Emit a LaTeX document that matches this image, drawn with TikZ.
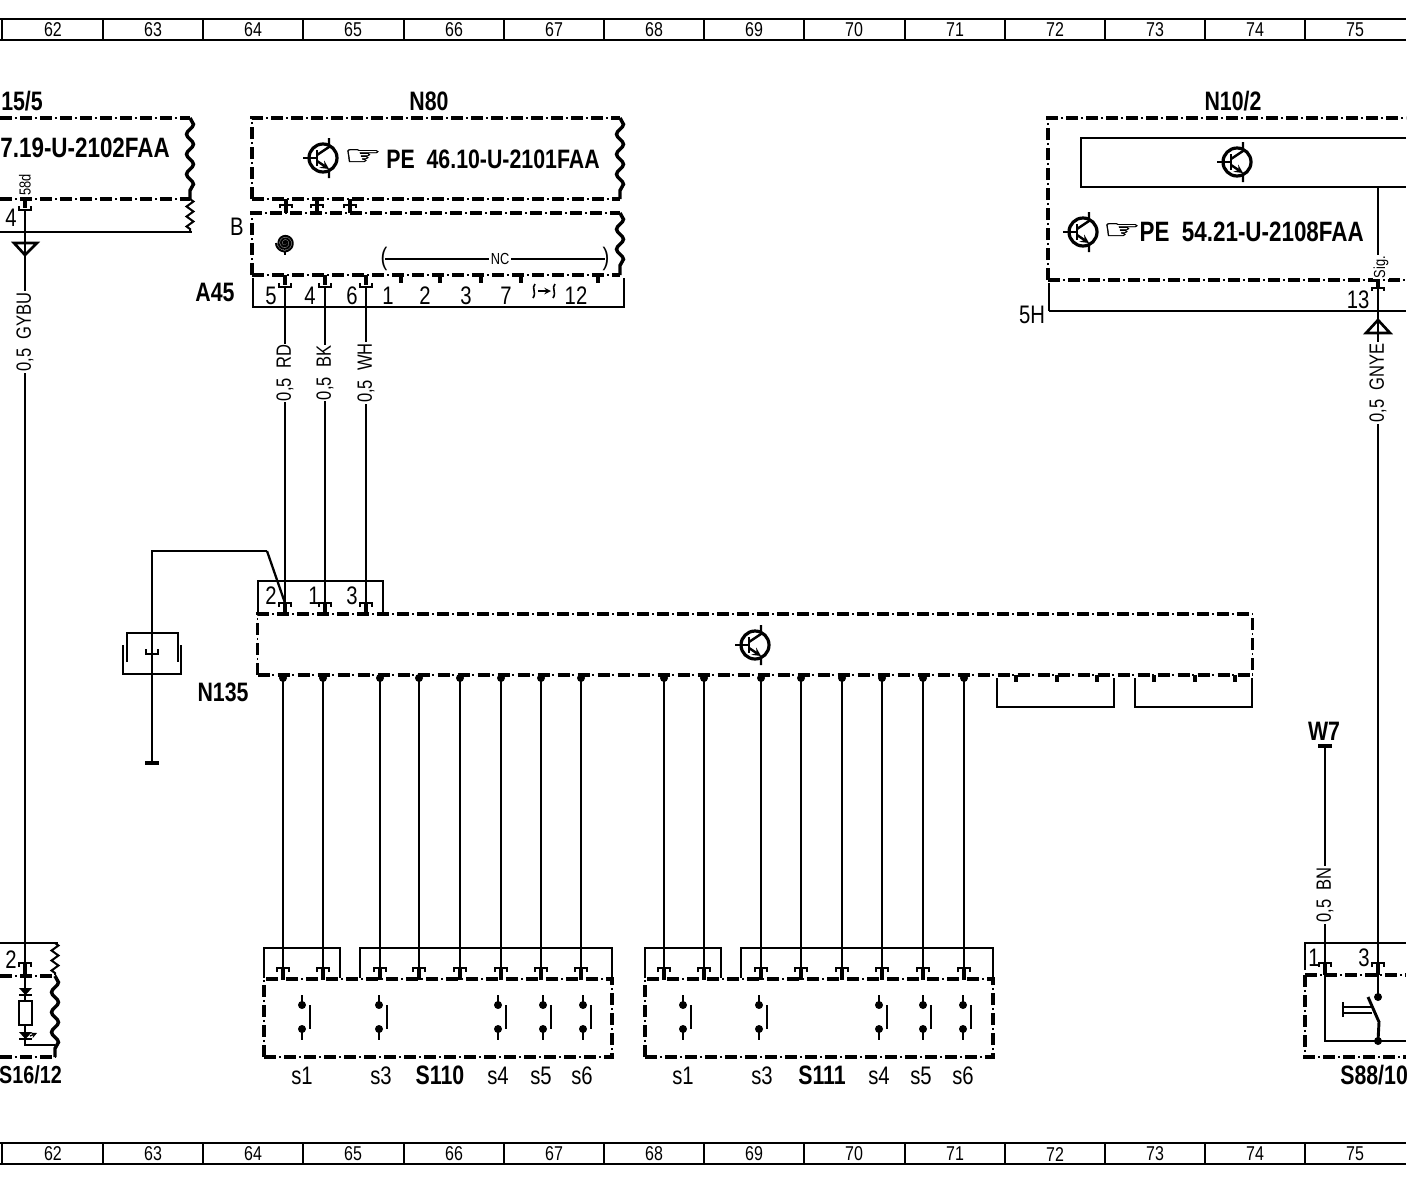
\documentclass[tikz,border=0pt]{standalone}
\usepackage{fontspec}
\setmainfont[FakeStretch=.8]{Liberation Sans}
\newfontfamily\handfont[FakeStretch=1.6,FakeBold=1.5]{DejaVu Sans}
\usetikzlibrary{decorations.pathmorphing}
\newcommand{\titlesize}{\fontsize{20}{20}\selectfont\bfseries}
\newcommand{\plainsize}{\fontsize{19}{19}\selectfont}
\newcommand{\wiresize}{\fontsize{15.5}{15.5}\selectfont}
\newcommand{\smallsize}{\fontsize{12}{12}\selectfont}

\begin{document}
\begin{tikzpicture}[
    x=.75pt, y=-.75pt,
    wire/.style={line width=2.2pt},
    thinwire/.style={line width=1.7pt},
    framebox/.style={line width=.9pt, dash pattern=on 9pt off 2.2pt on 1.2pt off 2.6pt,
        postaction={draw, line width=2.6pt, dash pattern=on 9pt off 6pt}},
    ctrlbox/.style={framebox, draw, inner sep=0pt},
    wavy/.style={line width=2.6pt, decorate, decoration={snake, amplitude=2.6pt, segment length=15pt}},
    wavythin/.style={line width=1.5pt, decorate, decoration={zigzag, amplitude=2.6pt, segment length=7.5pt}},
    title/.style={font=\titlesize, inner sep=0pt},
    plain/.style={font=\plainsize, inner sep=0pt},
    wirelabel/.style={font=\wiresize, fill=white, rotate=90, inner sep=1pt},
    pinup/.pic={
        \draw[line width=1.9pt] (-6,4) -- (-6,0) -- (6,0) -- (6,4);
        \draw[line width=3pt] (0,0) -- (0,12);
    },
    pindown/.pic={
        \draw[line width=3pt] (0,-12) -- (0,-2);
        \draw[line width=1.9pt] (-6,-4) -- (-6,0) -- (6,0) -- (6,-4);
    },
    transistor/.pic={
        \draw[line width=2.4pt] (0,0) circle [radius=14];
        \draw[line width=1.8pt] (-20,0) -- (-6,0) (-6,-8) -- (-6,8);
        \draw[line width=1.8pt] (-6,-3) -- (6,-11) -- (6,-20) (6,11) -- (6,20);
        \draw[line width=1.8pt, -stealth] (-6,3) -- (6,11);
    },
    contact/.pic={
        \fill (0,-12) circle [radius=4] (0,12) circle [radius=4];
        \draw[line width=2pt] (0,-22) -- (0,-12) (0,12) -- (0,23);
        \draw[line width=1.4pt] (8,-12) -- (8,12);
    },
]
\useasboundingbox (0,0) rectangle (1408,1186);
\clip (0,0) rectangle (1406,1186);

% grid strips
\foreach \ya/\yb/\yc in {19/40/30, 1143/1164/1154} {
    \draw[line width=2pt] (0,\ya) -- (1406,\ya) (0,\yb) -- (1406,\yb);
    \foreach \x in {2,103,203,303,404,504,604,704,804,905,1005,1105,1205,1305}
        \draw[line width=1.7pt] (\x,\ya) -- (\x,\yb);
    \foreach \n/\x in {62/53,63/153,64/253,65/353,66/454,67/554,68/654,69/754,70/854,71/955,72/1055,73/1155,74/1255,75/1355}
        \node[font=\fontsize{15}{15}\selectfont, inner sep=0pt] (grid\n\ya) at (\x,\yc) {\n};
}

% 15/5
\node[title, anchor=west] (lblA) at (1,101) {15/5};
\draw[framebox] (0,118) -- (190,118);
\draw[framebox] (0,199) -- (190,199);
\draw[wavy] (190,118) -- (190,199);
\draw[wavythin] (190,199) -- (190,232);
\draw[thinwire] (0,232) -- (192,232);
\node[title, font=\fontsize{21}{21}\selectfont\bfseries, anchor=east] (refA) at (170,148) {7.19-U-2102FAA};
\coordinate (pinA) at (25,210);
\pic at (pinA) {pindown};
\node[font=\smallsize, rotate=90, inner sep=0pt] (sigA) at (25,185) {58d};
\node[plain] (numA) at (11,218) {4};
\coordinate (pinB) at (25,963);
\draw[wire] (pinA) -- (pinB);
\draw[line width=2pt] (14,243) -- (37,243) -- (25,255) -- cycle;
\node[wirelabel] (wireA) at (25,332) {0,5~~GYBU};

% N80
\node[title] (lblN80) at (429,101) {N80};
\draw[framebox] (252,199) -- (252,118) -- (620,118);
\draw[framebox] (252,199) -- (620,199);
\draw[wavy] (620,118) -- (620,199);
\pic at (323,158) {transistor};
\node[font=\handfont\fontsize{20}{20}\selectfont, inner sep=0pt] (handN80) at (363,157) {☞};
\node[title, anchor=east] (refN80) at (600,159) {PE~~46.10-U-2101FAA};
\foreach \x in {286,317,350} {
    \draw[line width=1.9pt] (\x-6,208) -- (\x-6,205) -- (\x+6,205) -- (\x+6,208);
    \draw[line width=3pt] (\x,199) -- (\x,213);
}

% A45
\draw[framebox] (252,275) -- (252,213) -- (620,213);
\draw[framebox] (252,275) -- (620,275);
\draw[wavy] (620,213) -- (620,275);
\node[plain] (lblB) at (237,227) {B};
\draw[line width=1.5pt] plot[domain=0:1260, samples=80] ({285+\x/1260*9*cos(\x)},{243+\x/1260*9*sin(\x)});
\draw[line width=1.7pt] (285,252) -- (285,255);
\draw[thinwire] (385,259) -- (605,259);
\node[font=\smallsize, fill=white, inner sep=1pt] (lblNC) at (500,259) {NC};
\node[plain] (openNC) at (384,259) {(};
\node[plain] (closeNC) at (606,259) {)};
\draw[thinwire] (253,278) -- (253,307) -- (624,307) -- (624,278);
\node[title] (lblA45) at (215,292) {A45};
\foreach \x in {401,440,481,521,598}
    \draw[line width=2.8pt] (\x,275) -- (\x,283);
\foreach \n/\x in {5/271,4/310,6/352,1/388,2/425,3/466,7/506,12/576}
    \node[plain] (numAA\n) at (\x,296) {\n};
\draw[line width=1.2pt] (535,284) .. controls (531,288) and (537,292) .. (533,298);
\draw[line width=1.2pt] (555,284) .. controls (551,288) and (557,292) .. (553,298);
\draw[line width=1.2pt, -stealth] (538,291) -- (551,291);

% N135
\node[ctrlbox, minimum width=746.25pt, minimum height=45.75pt] (N135) at (755,644.5) {};
\node[title] (lblN135) at (223,692) {N135};
\pic at (755,645) {transistor};
\draw[thinwire] (258,612) -- (258,581) -- (383,581) -- (383,612);
\foreach \n/\x/\tx in {2/285/271,1/325/314,3/366/352} {
    \coordinate (top\n) at (\x,287);
    \coordinate (pin\n) at (\x,603);
    \draw[wire] (top\n) -- (pin\n);
    \pic at (top\n) {pindown};
    \pic at (pin\n) {pinup};
    \node[plain] (num\n) at (\tx,596) {\n};
}
\foreach \n/\a/\x in {2/RD/285,1/BK/325,3/WH/366}
    \node[wirelabel] (wire\n) at (\x,373) {0,5~~\a};

% shield
\coordinate (bend) at (267,551);
\coordinate (corner) at (152,551);
\coordinate (shieldEnd) at (152,763);
\draw[line width=1.7pt] (pin2) -- (bend);
\draw[wire] (bend) -- (corner) -- (shieldEnd);
\draw[line width=2.4pt] (145,763) -- (159,763);
\draw[thinwire] (127,662) -- (127,633) -- (178,633) -- (178,662);
\draw[line width=2pt] (123,645) -- (123,674) -- (181,674) -- (181,645);
\draw[line width=2pt] (146,649) -- (146,654) -- (158,654) -- (158,649);

% switch blocks
\node[ctrlbox, minimum width=261pt, minimum height=58.5pt] (S110) at (438,1018) {};
\node[ctrlbox, minimum width=261pt, minimum height=58.5pt] (S111) at (819,1018) {};
\foreach \xa/\xb/\xc/\xd in {264/340/360/612, 645/721/741/993} {
    \draw[thinwire] (\xa,978) -- (\xa,948) -- (\xb,948) -- (\xb,978);
    \draw[thinwire] (\xc,978) -- (\xc,948) -- (\xd,948) -- (\xd,978);
}
\foreach \x in {283,323,380,419,460,501,541,581,664,704,761,801,842,882,923,964} {
    \coordinate (out\x) at (\x,678);
    \coordinate (in\x) at (\x,968);
    \draw[wire] (out\x) -- (in\x);
    \fill (out\x) circle [radius=4];
    \pic at (in\x) {pinup};
}
\foreach \x in {302,379,498,543,583,683,759,879,923,963}
    \pic at (\x,1017) {contact};
\foreach \n/\x in {s1/302,s3/381,s4/498,s5/541,s6/582}
    \node[plain] (lblA\n) at (\x,1076) {\n};
\foreach \n/\x in {s1/683,s3/762,s4/879,s5/921,s6/963}
    \node[plain] (lblB\n) at (\x,1076) {\n};
\node[title] (lblS110) at (440,1075) {S110};
\node[title] (lblS111) at (822,1075) {S111};

% N135 plugs
\foreach \xa/\xb in {997/1114, 1135/1252} {
    \draw[wire] (\xa,678) -- (\xa,707) -- (\xb,707) -- (\xb,678);
    \foreach \d in {19,60,100}
        \draw[line width=3pt] (\xa+\d,675) -- (\xa+\d,682);
}

% N10/2
\node[title] (lblN10) at (1233,101) {N10/2};
\draw[framebox] (1048,280) -- (1048,118) -- (1406,118);
\draw[framebox] (1048,280) -- (1406,280);
\draw[thinwire] (1406,138) -- (1081,138) -- (1081,187) -- (1406,187);
\pic at (1237,162) {transistor};
\pic at (1083,232) {transistor};
\node[font=\handfont\fontsize{20}{20}\selectfont, inner sep=0pt] (handN10) at (1122,231) {☞};
\node[title, font=\fontsize{21}{21}\selectfont\bfseries, anchor=east] (refN10) at (1364,232) {PE~~54.21-U-2108FAA};
\coordinate (sigTop) at (1378,187);
\coordinate (sigPin) at (1378,963);
\draw[wire] (sigTop) -- (sigPin);
\node[font=\smallsize, rotate=90, fill=white, inner sep=.5pt] (sigN10) at (1381,267) {Sig.};
\draw[line width=1.9pt] (1372,291) -- (1372,288) -- (1384,288) -- (1384,291);
\draw[line width=3.2pt] (1378,280) -- (1378,288);
\node[plain] (num13) at (1358,300) {13};
\draw[line width=1.2pt] (1049,283) -- (1049,311);
\draw[thinwire] (1049,311) -- (1406,311);
\node[plain] (lbl5H) at (1032,315) {5H};
\draw[line width=2pt] (1366,333) -- (1390,333) -- (1378,320) -- cycle;
\node[wirelabel] (wireN10) at (1378,383) {0,5~~GNYE};

% S16/12
\draw[thinwire] (0,943) -- (58,943);
\draw[wavythin] (55,943) -- (55,975);
\node[plain] (num2S) at (11,960) {2};
\pic at (pinB) {pinup};
\draw[framebox] (0,976) -- (55,976);
\draw[framebox] (0,1057) -- (55,1057);
\draw[wavy] (55,976) -- (55,1057);
\draw[thinwire] (25,976) -- (25,1001) (25,1025) -- (25,1045) -- (55,1045);
\draw[line width=2pt] (19,1001) rectangle (32,1025);
\fill (19,988) -- (32,988) -- (25.5,995) -- cycle;
\draw[line width=1.7pt] (19,995) -- (32,995);
\fill (19,1032) -- (32,1032) -- (25.5,1039) -- cycle;
\draw[line width=1.5pt] (19,1039) -- (32,1039);
\draw[line width=1pt, -stealth] (30,1036) -- (37,1033);
\node[title, font=\fontsize{18.5}{18.5}\selectfont\bfseries, anchor=east] (lblS16) at (62,1075) {S16/12};

% S88/10
\node[title] (lblW7) at (1324,731) {W7};
\coordinate (w7) at (1325,746);
\coordinate (pinW7) at (1325,963);
\draw[line width=2.4pt] (1318,746) -- (1332,746);
\draw[thinwire] (w7) -- (pinW7);
\node[wirelabel] (wireW7) at (1325,895) {0,5~~BN};
\draw[line width=2pt] (1305,970) -- (1305,943) -- (1406,943);
\pic at (pinW7) {pinup};
\pic at (sigPin) {pinup};
\node[plain] (num1S) at (1314,958) {1};
\node[plain] (num3S) at (1364,958) {3};
\draw[framebox] (1305,975) -- (1305,1057) -- (1406,1057);
\draw[framebox] (1305,975) -- (1406,975);
\draw[thinwire] (1325,975) -- (1325,1041) -- (1406,1041);
\draw[wire] (1378,975) -- (1378,997);
\fill (1378,997) circle [radius=4] (1378,1041) circle [radius=4];
\draw[wire] (1368,997) -- (1379,1022) -- (1378,1041);
\draw[line width=1.4pt] (1343,1007) -- (1372,1007) (1343,1013) -- (1372,1013);
\draw[line width=2.2pt] (1343,1002) -- (1343,1017);
\node[title, anchor=west] (lblS88) at (1340,1075) {S88/10};

\end{tikzpicture}
\end{document}
